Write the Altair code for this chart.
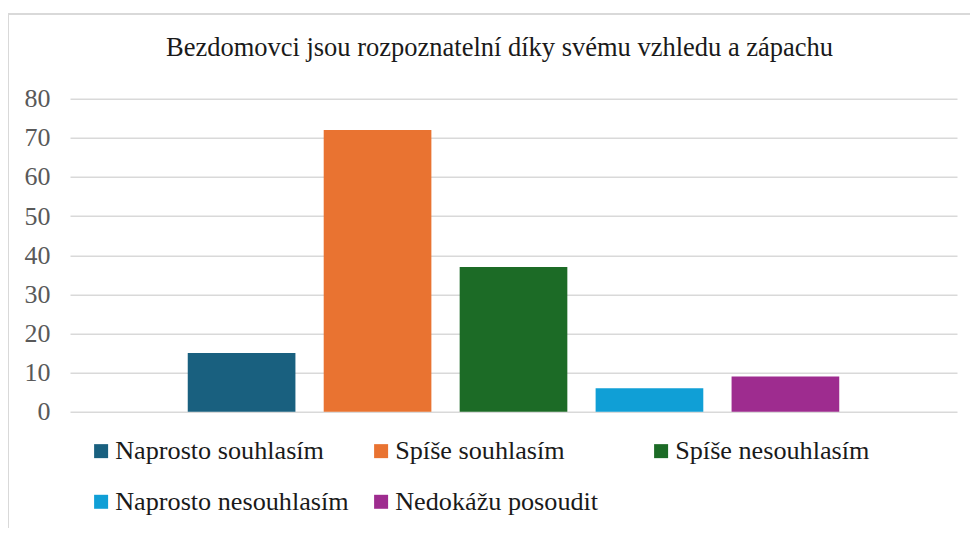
import altair as alt
import pandas as pd

categories = ["Naprosto souhlasím", "Spíše souhlasím", "Spíše nesouhlasím",
              "Naprosto nesouhlasím", "Nedokážu posoudit"]
values = [15, 72, 37, 6, 9]
colors = ["#19607f", "#e97331", "#1c6b26", "#109fd6", "#9e2c8f"]
y_ticks = [0, 10, 20, 30, 40, 50, 60, 70, 80]
title = "Bezdomovci jsou rozpoznatelní díky svému vzhledu a zápachu"

df = pd.DataFrame({"kategorie": categories, "pocet": values})

# legend fills column by column (2 rows): reorder so rows read like the original
legend_order = [0, 3, 1, 4, 2]
legend_domain = [categories[i] for i in legend_order]
legend_range = [colors[i] for i in legend_order]

W, H = 887, 313
FONT = "Liberation Serif"

bars = alt.Chart(df).mark_bar().encode(
    x=alt.X("kategorie:N", sort=categories, axis=None,
            scale=alt.Scale(paddingInner=0.208, paddingOuter=0.866)),
    y=alt.Y("pocet:Q", title=None,
            scale=alt.Scale(domain=[0, 80], nice=False),
            axis=alt.Axis(values=y_ticks, grid=True, gridColor="#d9d9d9", gridWidth=1.5,
                          domain=False, ticks=False, labelPadding=20,
                          labelFont=FONT, labelFontSize=26, labelColor="#595959")),
    color=alt.Color("kategorie:N",
                    scale=alt.Scale(domain=legend_domain, range=legend_range),
                    legend=alt.Legend(title=None, orient="none", legendX=18, legendY=339,
                                      columns=3, gridAlign="all", columnPadding=19,
                                      rowPadding=24, symbolType="square", symbolSize=196,
                                      symbolStrokeWidth=0, labelOffset=1,
                                      labelFont=FONT, labelFontSize=26.2, labelColor="#1a1a1a",
                                      labelLimit=400)),
)

frame_df = pd.DataFrame({"k": [0]})
frame_top = alt.Chart(frame_df).mark_rule(color="#d9d9d9", strokeWidth=2).encode(
    x=alt.value(-62), x2=alt.value(W + 30), y=alt.value(-84.7))
frame_left = alt.Chart(frame_df).mark_rule(color="#d9d9d9", strokeWidth=2).encode(
    x=alt.value(-62), y=alt.value(-84.7), y2=alt.value(H + 140))

chart = alt.layer(frame_top, frame_left, bars).properties(
    width=W, height=H,
    title=alt.TitleParams(title, font=FONT, fontSize=26.5, fontWeight="normal",
                          color="#1a1a1a", anchor="middle", frame="group",
                          baseline="alphabetic", offset=0, dx=-14, dy=70),
    autosize=alt.AutoSizeParams(type="none"),
    padding={"left": 62, "top": 90.7, "right": 13, "bottom": 116},
).configure(background="white", font=FONT).configure_view(stroke=None).configure_legend(
    labelFont=FONT
)

chart.save("out.html", embed_options={"renderer": "svg", "actions": False})
